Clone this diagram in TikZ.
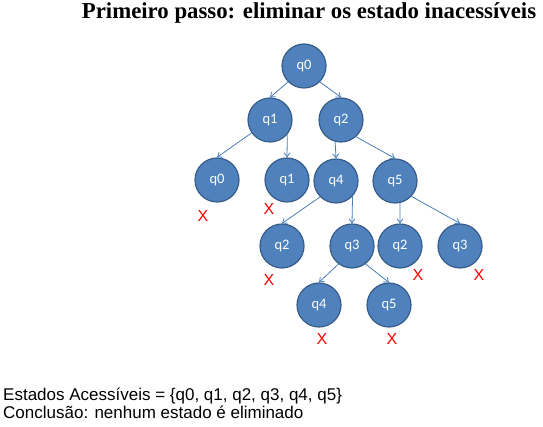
\documentclass[tikz,border=0pt]{standalone}
\usepackage{fontspec}
\setmainfont{Liberation Serif}
\newfontfamily\arialf{Liberation Sans}
\newfontfamily\calf{Carlito}
\usetikzlibrary{arrows.meta}
\definecolor{nodefill}{HTML}{4F81BD}
\definecolor{nodeline}{HTML}{385D8A}
\definecolor{edgecol}{HTML}{4A7EBB}
\tikzset{
  st/.style={circle, fill=nodefill, draw=nodeline, line width=1.2pt, minimum size=44pt, inner sep=0pt, text=white, font=\calf\fontsize{14.5}{16}\selectfont},
  edge/.style={draw=edgecol, line width=0.8pt, -{Straight Barb[length=4pt,width=6pt]}},
  xmark/.style={text=red, font=\arialf\fontsize{16}{18}\selectfont, inner sep=0pt},
  txt/.style={font=\arialf\fontsize{17}{19}\selectfont, inner sep=0pt, anchor=base west}
}
\begin{document}
\begin{tikzpicture}[x=1pt,y=-1pt]
\useasboundingbox (0,0) rectangle (543,427);
\node[font=\bfseries\fontsize{22.8}{26}\selectfont, inner sep=0pt, anchor=base] (title) at (309,19) {Primeiro passo: eliminar os estado inacessíveis};
% level 0
\node[st] (a0) at (304,66) {q0};
% level 1
\node[st] (b1) at (270,120) {q1};
\node[st] (b2) at (341,120) {q2};
% level 2
\node[st] (c0) at (217,180) {q0};
\node[st] (c1) at (287,180) {q1};
\node[st] (c4) at (336,181) {q4};
\node[st] (c5) at (395,181) {q5};
% level 3
\node[st] (d2) at (282,246) {q2};
\node[st] (d3) at (352,246) {q3};
\node[st] (e2) at (400,246) {q2};
\node[st] (e3) at (460,246) {q3};
% level 4
\node[st] (f4) at (319,305) {q4};
\node[st] (f5) at (389,305) {q5};
% edges
\draw[edge] (a0.-135) -- (b1.north);
\draw[edge] (a0.-45) -- (b2.north);
\draw[edge] (b1.-145) -- (c0.north);
\draw[edge] (b1.-40) -- (c1.north);
\draw[edge] (b2.-105) -- (c4.north);
\draw[edge] (b2.-48) -- (c5.north);
\draw[edge] (c4.-135) -- (d2.north);
\draw[edge] (c4.-43) -- (d3.north);
\draw[edge] (c5.-77) -- (e2.north);
\draw[edge] (c5.-43) -- (e3.north);
\draw[edge] (d3.-127) -- (f4.north);
\draw[edge] (d3.-53) -- (f5.north);
% X marks
\node[xmark] (x1) at (203,216) {X};
\node[xmark] (x2) at (269,209) {X};
\node[xmark] (x3) at (269,280) {X};
\node[xmark] (x4) at (418,275) {X};
\node[xmark] (x5) at (479,275) {X};
\node[xmark] (x6) at (322,339) {X};
\node[xmark] (x7) at (392,339) {X};
% bottom text
\node[txt] (t1) at (3,400) {Estados Acessíveis = \{q0, q1, q2, q3, q4, q5\}};
\node[txt] (t2) at (3,418) {Conclusão: nenhum estado é eliminado};
\end{tikzpicture}
\end{document}
